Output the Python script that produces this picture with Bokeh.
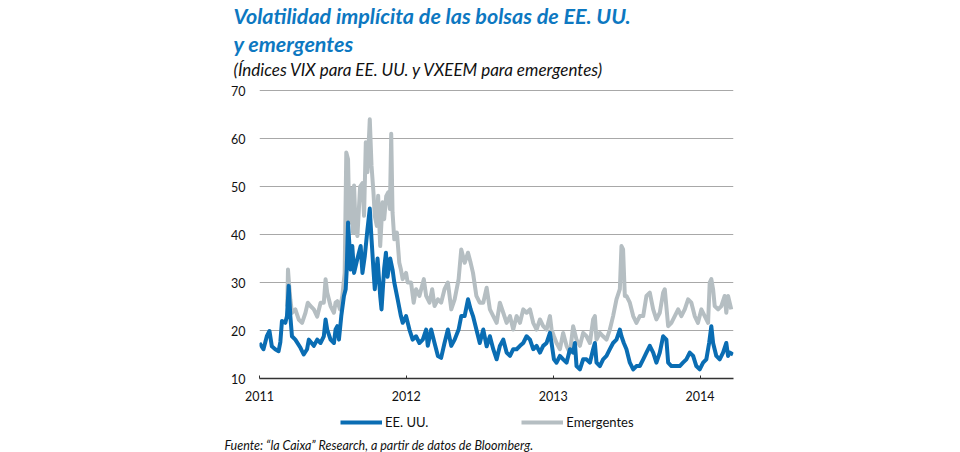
from bokeh.plotting import figure
from bokeh.models import Range1d, FixedTicker, Title, Legend, LegendItem
from bokeh.layouts import column
from bokeh.embed import file_html
from bokeh.resources import INLINE

# ---- data (decimal years, index level) ----
t_us = [2011.000, 2011.027, 2011.050, 2011.068, 2011.084, 2011.107, 2011.130, 2011.142, 2011.153, 2011.176,
        2011.187, 2011.199, 2011.210, 2011.221, 2011.244, 2011.279, 2011.301, 2011.324, 2011.336, 2011.370,
        2011.393, 2011.416, 2011.438, 2011.450, 2011.461, 2011.484, 2011.507, 2011.518, 2011.530, 2011.541,
        2011.557, 2011.575, 2011.587, 2011.594, 2011.603, 2011.612, 2011.621, 2011.632, 2011.644, 2011.667,
        2011.689, 2011.701, 2011.717, 2011.735, 2011.751, 2011.763, 2011.776, 2011.785, 2011.804, 2011.822,
        2011.831, 2011.849, 2011.861, 2011.872, 2011.890, 2011.906, 2011.918, 2011.941, 2011.963, 2011.975,
        2011.998, 2012.021, 2012.043, 2012.066, 2012.089, 2012.112, 2012.135, 2012.146, 2012.169, 2012.192,
        2012.215, 2012.237, 2012.260, 2012.283, 2012.306, 2012.329, 2012.356, 2012.374, 2012.397, 2012.420,
        2012.438, 2012.454, 2012.477, 2012.500,
        2012.524, 2012.547, 2012.569, 2012.592, 2012.615, 2012.637, 2012.660, 2012.683, 2012.706, 2012.728,
        2012.751, 2012.774, 2012.796, 2012.819, 2012.842, 2012.864, 2012.887, 2012.910, 2012.932, 2012.955,
        2012.978, 2012.989, 2013.005, 2013.023, 2013.046, 2013.068, 2013.091, 2013.114, 2013.136, 2013.148,
        2013.159, 2013.182, 2013.204, 2013.227, 2013.250, 2013.272, 2013.284, 2013.295, 2013.318, 2013.340,
        2013.363, 2013.386, 2013.408, 2013.431, 2013.454, 2013.465, 2013.481, 2013.499, 2013.522, 2013.545,
        2013.567, 2013.590, 2013.613, 2013.635, 2013.658, 2013.681, 2013.703, 2013.726, 2013.749, 2013.771,
        2013.783, 2013.805, 2013.839, 2013.862, 2013.884, 2013.907, 2013.930, 2013.953, 2013.975, 2013.998,
        2014.021, 2014.043, 2014.062, 2014.077, 2014.089, 2014.111, 2014.134, 2014.157, 2014.179, 2014.191,
        2014.202, 2014.225]
vix = [17.4, 16.1, 18.8, 19.9, 16.7, 16.1, 15.7, 17.6, 22.0, 21.6,
       23.0, 29.3, 23.0, 18.8, 18.1, 16.4, 15.0, 16.1, 18.1, 16.8,
       18.1, 17.4, 18.8, 22.3, 20.2, 18.1, 17.4, 20.2, 20.9, 18.1,
       23.0, 27.2, 28.6, 32.7, 42.5, 38.0, 32.7, 37.6, 32.0, 35.0,
       37.6, 32.0, 35.5, 41.0, 45.4, 39.0, 32.7, 28.6, 35.0, 27.2,
       24.4, 33.0, 36.2, 31.2, 35.0, 32.7, 30.0, 26.5, 23.0, 21.6,
       23.0, 20.2, 18.1, 18.8, 17.4, 18.1, 20.2, 16.8, 20.2, 17.4,
       14.7, 14.3, 17.4, 20.2, 16.8, 18.1, 20.2, 23.0, 23.0, 26.5,
       24.4, 23.0, 20.2, 17.4,
       20.2, 16.7, 18.8, 16.1, 14.0, 16.8, 18.1, 15.4, 14.7, 16.1,
       16.1, 16.8, 17.4, 18.8, 18.1, 16.1, 16.8, 15.4, 16.8, 17.4,
       19.5, 17.4, 14.0, 13.3, 14.7, 14.0, 13.3, 16.1, 15.4, 17.4,
       12.6, 11.9, 14.0, 14.0, 13.3, 16.1, 17.4, 13.3, 12.6, 14.0,
       14.7, 16.1, 17.4, 18.1, 20.2, 18.8, 17.4, 16.1, 13.3, 11.9,
       12.6, 12.6, 14.0, 15.4, 16.8, 15.4, 13.3, 15.4, 18.8, 18.1,
       13.3, 12.6, 12.6, 12.6, 13.3, 14.0, 15.4, 14.7, 12.6, 11.9,
       13.3, 14.0, 17.4, 20.9, 17.4, 14.7, 14.0, 15.4, 17.4, 14.7,
       15.4, 15.0]

t_em = [2011.189, 2011.194, 2011.203, 2011.210, 2011.221, 2011.244, 2011.267, 2011.290, 2011.313, 2011.329,
        2011.347, 2011.370, 2011.393, 2011.416, 2011.438, 2011.450, 2011.461, 2011.484, 2011.507, 2011.518,
        2011.530, 2011.548, 2011.564, 2011.580, 2011.591, 2011.603, 2011.612, 2011.626, 2011.637, 2011.644,
        2011.655, 2011.667, 2011.685, 2011.701, 2011.712, 2011.724, 2011.735, 2011.751, 2011.763, 2011.776,
        2011.785, 2011.799, 2011.808, 2011.822, 2011.838, 2011.849, 2011.863, 2011.877, 2011.888, 2011.897,
        2011.906, 2011.918, 2011.936, 2011.952, 2011.963, 2011.975, 2011.998, 2012.009, 2012.032, 2012.050,
        2012.066, 2012.089, 2012.119, 2012.135, 2012.158, 2012.176, 2012.192, 2012.215, 2012.237, 2012.260,
        2012.283, 2012.306, 2012.329, 2012.356, 2012.374, 2012.397, 2012.420, 2012.438, 2012.454, 2012.477,
        2012.500,
        2012.524, 2012.547, 2012.569, 2012.592, 2012.615, 2012.637, 2012.660, 2012.683, 2012.706, 2012.728,
        2012.751, 2012.774, 2012.796, 2012.819, 2012.842, 2012.864, 2012.887, 2012.910, 2012.932, 2012.955,
        2012.978, 2012.989, 2013.005, 2013.023, 2013.046, 2013.068, 2013.091, 2013.114, 2013.136, 2013.159,
        2013.182, 2013.204, 2013.227, 2013.250, 2013.272, 2013.284, 2013.295, 2013.318, 2013.340, 2013.363,
        2013.386, 2013.408, 2013.431, 2013.454, 2013.465, 2013.476, 2013.488, 2013.499, 2013.522, 2013.545,
        2013.567, 2013.590, 2013.613, 2013.635, 2013.658, 2013.681, 2013.703, 2013.726, 2013.749, 2013.760,
        2013.783, 2013.805, 2013.828, 2013.851, 2013.873, 2013.896, 2013.919, 2013.941, 2013.964, 2013.986,
        2014.009, 2014.032, 2014.055, 2014.066, 2014.077, 2014.089, 2014.100, 2014.123, 2014.145, 2014.168,
        2014.179, 2014.191, 2014.213]
vxeem = [25.0, 32.7, 29.0, 26.5, 23.7, 24.4, 22.3, 21.6, 23.7, 25.8,
         25.1, 24.4, 22.9, 25.8, 25.8, 30.7, 27.9, 25.1, 23.7, 25.8,
         26.1, 24.4, 27.2, 32.0, 57.1, 55.7, 42.5, 49.5, 40.4, 50.2,
         41.1, 39.7, 50.0, 50.7, 43.9, 59.2, 53.0, 64.0, 54.3, 48.8,
         43.9, 41.8, 48.1, 37.6, 46.7, 43.2, 48.0, 48.8, 45.3, 61.0,
         44.6, 39.0, 40.4, 34.1, 32.7, 30.7, 32.0, 30.0, 30.0, 25.8,
         28.6, 27.2, 30.7, 27.2, 25.8, 28.6, 25.1, 26.5, 25.8, 28.6,
         30.0, 24.4, 26.5, 30.7, 36.9, 34.1, 36.2, 34.1, 32.0, 27.2,
         25.8,
         25.8, 28.9, 24.4, 23.0, 21.6, 25.8, 23.7, 21.6, 23.0, 20.2,
         23.0, 21.6, 24.4, 23.7, 24.4, 21.6, 20.2, 22.3, 20.9, 20.2,
         23.0, 20.2, 18.8, 17.4, 16.1, 19.5, 16.8, 15.3, 20.9, 18.1,
         16.8, 19.5, 18.8, 17.4, 22.3, 23.0, 18.1, 19.5, 18.8, 18.1,
         20.2, 23.0, 26.5, 28.6, 37.6, 36.9, 27.2, 27.2, 25.8, 23.0,
         21.6, 23.0, 23.0, 27.2, 27.9, 24.4, 22.3, 23.7, 27.9, 28.6,
         20.9, 21.6, 23.0, 24.4, 23.0, 24.4, 26.5, 25.8, 23.0, 21.6,
         24.4, 23.0, 21.6, 30.0, 30.7, 28.6, 25.1, 24.4, 25.1, 27.2,
         23.7, 27.2, 24.4]

year_ticks = [2011, 2012, 2013, 2014]
year_labels = ["2011", "2012", "2013", "2014"]
y_ticks = [10, 20, 30, 40, 50, 60, 70]
grid_ticks = [20, 30, 40, 50, 60, 70]

title1 = "Volatilidad implícita de las bolsas de EE. UU."
title2 = "y emergentes"
subtitle = "(Índices VIX para EE. UU. y VXEEM para emergentes)"
source = "Fuente: “la Caixa” Research, a partir de datos de Bloomberg."
series_names = ["EE. UU.", "Emergentes"]

BLUE = "#0a6db3"
GRAY = "#b5bec2"
TBLUE = "#0d78c1"
INK = "#111111"
FONT = "Lato"
NAN = float("nan")

# ---- main chart (titles in the panel above) ----
# frame runs a little above the 70 line so the 70 line sits below the subtitle
p = figure(frame_width=474, frame_height=299, output_backend="svg", toolbar_location=None, title=None,
           x_range=Range1d(2011.0, 2014.228), y_range=Range1d(10, 72.3),
           min_border_left=259, min_border_right=227, min_border_top=0, min_border_bottom=30)
p.outline_line_color = None
p.background_fill_color = "white"
p.border_fill_color = "white"

p.line(t_em, vxeem, line_color=GRAY, line_width=4, line_join="round")
p.line(t_us, vix, line_color=BLUE, line_width=4, line_join="round")

p.xgrid.visible = False
p.ygrid.ticker = FixedTicker(ticks=grid_ticks)
p.ygrid.grid_line_color = "#a8a8a8"
p.ygrid.grid_line_width = 1

p.xaxis.ticker = FixedTicker(ticks=year_ticks)
p.xaxis.major_label_overrides = {k: v for k, v in zip(year_ticks, year_labels)}
p.xaxis.axis_line_color = "#333333"
p.xaxis.axis_line_width = 1.5
p.xaxis.major_tick_in = 3
p.xaxis.major_tick_out = 0
p.xaxis.major_tick_line_color = "#333333"
p.xaxis.minor_tick_line_color = None
p.xaxis.major_label_standoff = 12
p.xaxis.major_label_text_font = FONT
p.xaxis.major_label_text_font_size = "12.5px"
p.xaxis.major_label_text_color = INK

p.yaxis.ticker = FixedTicker(ticks=y_ticks)
p.yaxis.axis_line_color = None
p.yaxis.major_tick_line_color = None
p.yaxis.minor_tick_line_color = None
p.yaxis.major_label_standoff = 8
p.yaxis.major_label_text_font = FONT
p.yaxis.major_label_text_font_size = "12.5px"
p.yaxis.major_label_text_color = INK

# first added sits nearest the frame
p.add_layout(Title(text=subtitle, align="left", offset=-26, standoff=0, text_font=FONT,
                   text_font_size="17px", text_font_style="italic", text_color=INK), "above")
p.add_layout(Title(text=title2, align="left", offset=-26, standoff=0, text_font=FONT,
                   text_font_size="21.5px", text_font_style="bold italic", text_color=TBLUE), "above")
p.add_layout(Title(text=title1, align="left", offset=-26, standoff=0, text_font=FONT,
                   text_font_size="21.5px", text_font_style="bold italic", text_color=TBLUE), "above")

# ---- legend row + source ----
leg = figure(width=960, height=44, output_backend="svg", toolbar_location=None, title=None,
             x_axis_type=None, y_axis_type=None, x_range=Range1d(0, 1), y_range=Range1d(0, 1),
             min_border_left=259, min_border_right=227, min_border_top=0, min_border_bottom=15)
leg.outline_line_color = None
leg.background_fill_color = "white"
leg.border_fill_color = "white"
r_us = leg.line([NAN], [NAN], line_color=BLUE, line_width=4)
r_em = leg.line([NAN], [NAN], line_color=GRAY, line_width=4)
legend = Legend(items=[LegendItem(label=series_names[0], renderers=[r_us]),
                       LegendItem(label=series_names[1], renderers=[r_em])],
                orientation="horizontal", location="left",
                glyph_width=42, glyph_height=14, label_standoff=3, spacing=93,
                padding=0, margin=81, border_line_color=None, background_fill_alpha=0,
                label_text_font=FONT, label_text_font_size="13px", label_text_color=INK)
leg.add_layout(legend, "center")
leg.add_layout(Title(text=source, align="left", offset=-35, standoff=0, text_font=FONT,
                     text_font_size="12.5px", text_font_style="italic", text_color=INK), "below")

layout = column(p, leg, spacing=0)
open("out.html", "w").write(file_html(layout, INLINE))
